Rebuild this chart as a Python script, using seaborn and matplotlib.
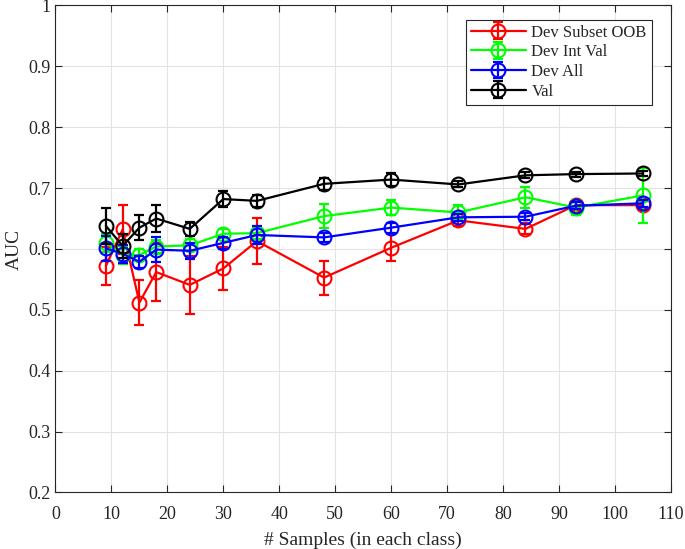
import numpy as np
import pandas as pd
import matplotlib
matplotlib.use("Agg")
import matplotlib.pyplot as plt
import seaborn as sns
from matplotlib.legend_handler import HandlerTuple

x = [9, 12, 15, 18, 24, 30, 36, 48, 60, 72, 84, 93, 105]

red_y = [0.572, 0.632, 0.512, 0.562, 0.541, 0.568, 0.613, 0.553, 0.602, 0.647, 0.633, 0.672, 0.672]
red_e = [0.032, 0.040, 0.037, 0.047, 0.048, 0.035, 0.038, 0.028, 0.022, 0.010, 0.008, 0.008, 0.006]
green_y = [0.610, 0.590, 0.590, 0.604, 0.606, 0.625, 0.626, 0.654, 0.668, 0.660, 0.685, 0.668, 0.688]
green_e = [0.015, 0.015, 0.010, 0.010, 0.010, 0.007, 0.010, 0.020, 0.012, 0.012, 0.017, 0.012, 0.045]
blue_y = [0.601, 0.592, 0.579, 0.599, 0.597, 0.610, 0.623, 0.619, 0.635, 0.652, 0.653, 0.671, 0.675]
blue_e = [0.020, 0.015, 0.010, 0.020, 0.013, 0.010, 0.015, 0.008, 0.008, 0.006, 0.006, 0.006, 0.006]
black_y = [0.638, 0.605, 0.635, 0.650, 0.633, 0.682, 0.679, 0.707, 0.714, 0.706, 0.721, 0.723, 0.724]
black_e = [0.030, 0.020, 0.020, 0.022, 0.012, 0.013, 0.010, 0.010, 0.010, 0.005, 0.005, 0.004, 0.004]

labels = ["Dev Subset OOB", "Dev Int Val", "Dev All", "Val"]
colors = ["#ff0000", "#00ff00", "#0000ff", "#000000"]
series_y = [red_y, green_y, blue_y, black_y]
series_e = [red_e, green_e, blue_e, black_e]

sns.set_style("whitegrid")
plt.rcParams["font.family"] = ["Liberation Serif", "DejaVu Serif"]

fig = plt.figure(figsize=(6.85, 5.49), dpi=100)
ax = fig.add_axes([0.081, 0.103, 0.8985, 0.887])

handles = []
for lab, col, ys, es in zip(labels, colors, series_y, series_e):
    df = pd.DataFrame({"x": x, "y": ys})
    sns.lineplot(data=df, x="x", y="y", ax=ax, color=col, lw=1.6,
                 marker="o", markersize=10, markerfacecolor="none",
                 markeredgecolor=col, markeredgewidth=1.5, legend=False)
    eb = ax.errorbar(x, ys, yerr=es, fmt="none", ecolor=col, elinewidth=1.6,
                     capsize=3.8, capthick=1.6)
    h = matplotlib.lines.Line2D([], [], color=col, lw=1.6, marker="o",
                                markersize=10, markerfacecolor="none",
                                markeredgecolor=col, markeredgewidth=1.5)
    handles.append((h, eb))

ax.set_xlim(0, 110)
ax.set_ylim(0.2, 1.0)
ax.set_xticks(np.arange(0, 111, 10))
ax.set_yticks(np.round(np.arange(0.2, 1.01, 0.1), 1))
ax.set_yticklabels(["0.2", "0.3", "0.4", "0.5", "0.6", "0.7", "0.8", "0.9", "1"])
ax.set_xlabel("# Samples (in each class)", fontsize=14, labelpad=6)
ax.set_ylabel("AUC", fontsize=14, labelpad=4)
ax.grid(True, color="#e3e3e3", lw=0.8)
ax.set_facecolor("white")
for s in ax.spines.values():
    s.set_color("#262626")
    s.set_linewidth(0.8)
ax.tick_params(direction="in", length=5, width=0.8, colors="#262626",
               labelsize=13, top=True, right=True, labelcolor="#262626",
               left=True, bottom=True)
ax.tick_params(axis="x", pad=10)

leg = ax.legend(handles, labels, loc="upper right",
                bbox_to_anchor=(0.974, 0.978),
                handler_map={tuple: HandlerTuple(ndivide=1)},
                fontsize=12, frameon=True, fancybox=False, framealpha=1,
                edgecolor="#262626", handlelength=3.3, borderpad=0.3,
                labelspacing=0.22, handletextpad=0.35, borderaxespad=0.2)
leg.get_frame().set_linewidth(0.8)

fig.savefig("out.png", dpi=100)
